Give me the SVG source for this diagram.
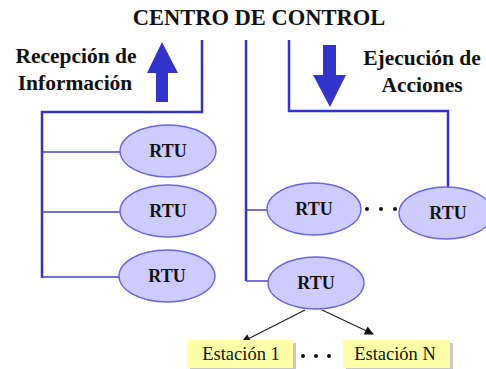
<svg xmlns="http://www.w3.org/2000/svg" width="486" height="369" viewBox="0 0 486 369">
<style>
.t{font-family:"Liberation Serif","Times New Roman",serif;font-weight:bold;fill:#111;}
.rtu ellipse{fill:#CCCCFF;stroke:#6666DD;stroke-width:1.3;}
.rtu text{font-family:"Liberation Serif","Times New Roman",serif;font-weight:bold;font-size:18px;fill:#111;text-anchor:middle;}
.bus{fill:none;stroke:#3333CC;stroke-width:2.5;}
.br{fill:none;stroke:#4444CC;stroke-width:1.6;}
.st rect.b{fill:#FFFFA8;}
.st rect.s{fill:#C8C8C8;}
.st text{font-family:"Liberation Serif","Times New Roman",serif;font-size:18.5px;fill:#111;text-anchor:middle;}
.dot{fill:#111;}
</style>
<defs>
<marker id="ah" viewBox="0 0 10 10" refX="9" refY="5" markerWidth="10" markerHeight="9" markerUnits="userSpaceOnUse" orient="auto">
<path d="M0,0 L10,5 L0,10 z" fill="#111"/>
</marker>
</defs>
<rect width="486" height="369" fill="#fff"/>
<g id="title"><text class="t" x="259" y="25" font-size="22.5" text-anchor="middle">CENTRO DE CONTROL</text></g>
<g id="labels">
<text class="t" x="76" y="63" font-size="21.5" text-anchor="middle">Recepción de</text>
<text class="t" x="75" y="90" font-size="21.5" text-anchor="middle">Información</text>
<text class="t" x="422" y="65" font-size="21.5" text-anchor="middle">Ejecución de</text>
<text class="t" x="422" y="92" font-size="21.5" text-anchor="middle">Acciones</text>
</g>
<g id="big-arrows">
<path d="M162,42 L178,73 L168,73 L168,102 L156,102 L156,73 L147,73 Z" fill="#3333CC"/>
<path d="M323,45 L336,45 L336,75 L346,75 L330,107 L313,75 L323,75 Z" fill="#3333CC"/>
</g>
<g id="connectors">
<path class="bus" d="M202,40 L202,112 L42,112 L42,278"/>
<path class="br" d="M42,152 L120,152 M42,212 L120,212 M42,277 L119,277"/>
<path class="bus" d="M246,40 L246,281"/>
<path class="br" d="M246,210 L267,210 M246,281 L268,281"/>
<path class="bus" d="M289,40 L289,111 L448,111 L448,188"/>
<line x1="305" y1="310" x2="242" y2="342" stroke="#222" stroke-width="1.2" marker-end="url(#ah)"/>
<line x1="322" y1="310" x2="373" y2="334" stroke="#222" stroke-width="1.2" marker-end="url(#ah)"/>
</g>
<g id="rtu1" class="rtu"><ellipse cx="168" cy="151" rx="48" ry="26"/><text x="168" y="157">RTU</text></g>
<g id="rtu2" class="rtu"><ellipse cx="168" cy="211" rx="48" ry="26"/><text x="168" y="217">RTU</text></g>
<g id="rtu3" class="rtu"><ellipse cx="167" cy="276" rx="48" ry="26"/><text x="167" y="282">RTU</text></g>
<g id="rtu4" class="rtu"><ellipse cx="314" cy="209" rx="47" ry="26"/><text x="314" y="215">RTU</text></g>
<g id="rtu5" class="rtu"><ellipse cx="316" cy="283" rx="48" ry="26"/><text x="316" y="289">RTU</text></g>
<g id="rtu6" class="rtu"><ellipse cx="446" cy="213" rx="47" ry="26"/><text x="448" y="219">RTU</text></g>
<g id="dots1"><circle class="dot" cx="367" cy="209" r="2"/><circle class="dot" cx="381" cy="209" r="2"/><circle class="dot" cx="395" cy="209" r="2"/></g>
<g id="estacion1" class="st"><rect class="s" x="190" y="343" width="106" height="28"/><rect class="b" x="187" y="340" width="106" height="28"/><text x="241" y="360">Estación 1</text></g>
<g id="dots2"><circle class="dot" cx="303" cy="356" r="2"/><circle class="dot" cx="316" cy="356" r="2"/><circle class="dot" cx="329" cy="356" r="2"/></g>
<g id="estacionN" class="st"><rect class="s" x="346" y="343" width="107" height="28"/><rect class="b" x="343" y="340" width="107" height="28"/><text x="395" y="360">Estación N</text></g>
</svg>
